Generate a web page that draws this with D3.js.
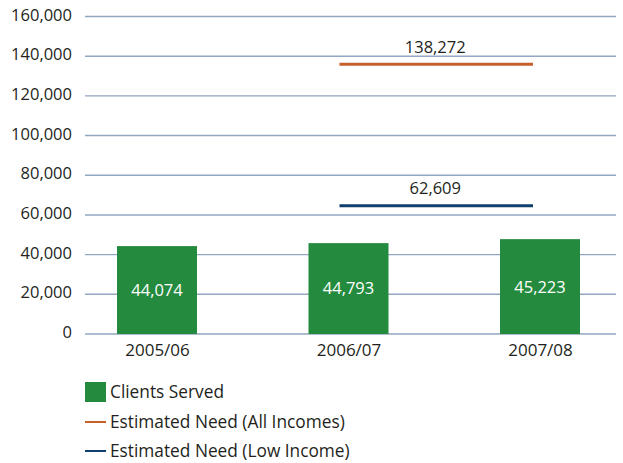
<!DOCTYPE html>
<html>
<head>
<meta charset="utf-8">
<script src="https://cdn.jsdelivr.net/npm/d3@7"></script>
<style>
  html, body { margin: 0; padding: 0; background: #ffffff; }
  text { font-family: "Open Sans", "Noto Sans", sans-serif; fill: #231f20; }
</style>
</head>
<body>
<svg id="chart" width="623" height="463"></svg>
<script>
// ---- data ----
const categories = ["2005/06", "2006/07", "2007/08"];
const clientsServed = [44300, 45800, 47800];          // bar heights as drawn
const clientsLabels = ["44,074", "44,793", "45,223"]; // printed labels
const needAllIncomes = 136000;
const needAllIncomesLabel = "138,272";
const needLowIncome = 64600;
const needLowIncomeLabel = "62,609";
const yTicks = [0, 20000, 40000, 60000, 80000, 100000, 120000, 140000, 160000];
const legendItems = ["Clients Served", "Estimated Need (All Incomes)", "Estimated Need (Low Income)"];

// ---- styles ----
const green = "#248b3e", orange = "#c75f28", navy = "#0e3f6d", grid = "#93a6c3";

const svg = d3.select("#chart");
const plotLeft = 85, plotRight = 616;

const y = d3.scaleLinear().domain([0, 160000]).range([334, 16.5]);
const x = d3.scalePoint().domain(categories).range([157, 540]);
const xi = d3.scaleLinear().domain([0, categories.length - 1]).range([157, 540]);
const barW = 80;

// gridlines
svg.append("g").selectAll("line").data(yTicks).join("line")
  .attr("x1", plotLeft).attr("x2", plotRight)
  .attr("y1", d => y(d)).attr("y2", d => y(d))
  .attr("stroke", grid).attr("stroke-width", 1.4);

// y axis labels
const yAxis = d3.axisLeft(y).tickValues(yTicks).tickSize(0).tickPadding(0)
  .tickFormat(d3.format(","));
const yg = svg.append("g").attr("transform", `translate(72,0)`).call(yAxis);
yg.select(".domain").remove();
yg.selectAll("text").attr("font-size", 16.5).attr("dy", "0.22em")
  .style("font-family", "'Open Sans', sans-serif").attr("fill", "#231f20");

// x axis labels
const xAxis = d3.axisBottom(x).tickSize(0).tickPadding(0);
const xg = svg.append("g").attr("transform", `translate(0,341)`).call(xAxis);
xg.select(".domain").remove();
xg.selectAll("text").attr("font-size", 17).attr("dy", "0.9em")
  .style("font-family", "'Open Sans', sans-serif").attr("fill", "#231f20");

// bars
svg.append("g").selectAll("rect").data(clientsServed).join("rect")
  .attr("x", (d, i) => x(categories[i]) - barW / 2)
  .attr("width", barW)
  .attr("y", d => y(d))
  .attr("height", d => y(0) - y(d))
  .attr("fill", green);

// bar labels
svg.append("g").selectAll("text").data(clientsServed).join("text")
  .attr("x", (d, i) => x(categories[i]))
  .attr("y", d => (y(d) + y(0)) / 2)
  .attr("dy", "0.36em")
  .attr("text-anchor", "middle")
  .attr("font-size", 16.5)
  .style("fill", "#ffffff")
  .text((d, i) => clientsLabels[i]);

// need lines
const lineX1 = xi(1) - 9, lineX2 = xi(2) - 7;
const needs = [
  { v: needAllIncomes, label: needAllIncomesLabel, color: orange },
  { v: needLowIncome, label: needLowIncomeLabel, color: navy }
];
svg.append("g").selectAll("line").data(needs).join("line")
  .attr("x1", lineX1).attr("x2", lineX2)
  .attr("y1", d => y(d.v)).attr("y2", d => y(d.v))
  .attr("stroke", d => d.color).attr("stroke-width", 3);
svg.append("g").selectAll("text").data(needs).join("text")
  .attr("x", (lineX1 + lineX2) / 2 - 1)
  .attr("y", d => y(d.v) - 11.5)
  .attr("text-anchor", "middle")
  .attr("font-size", 16.5)
  .text(d => d.label);

// legend
const lg = svg.append("g");
const legendY = [392, 422, 451];
lg.append("rect").attr("x", 85).attr("y", legendY[0] - 10).attr("width", 21).attr("height", 20).attr("fill", green);
lg.append("line").attr("x1", 85).attr("x2", 106).attr("y1", legendY[1]).attr("y2", legendY[1])
  .attr("stroke", orange).attr("stroke-width", 2);
lg.append("line").attr("x1", 85).attr("x2", 106).attr("y1", legendY[2]).attr("y2", legendY[2])
  .attr("stroke", navy).attr("stroke-width", 2);
lg.selectAll("text").data(legendItems).join("text")
  .attr("x", 110).attr("y", (d, i) => legendY[i]).attr("dy", "0.36em")
  .attr("font-size", 17.3).text(d => d);
</script>
</body>
</html>
